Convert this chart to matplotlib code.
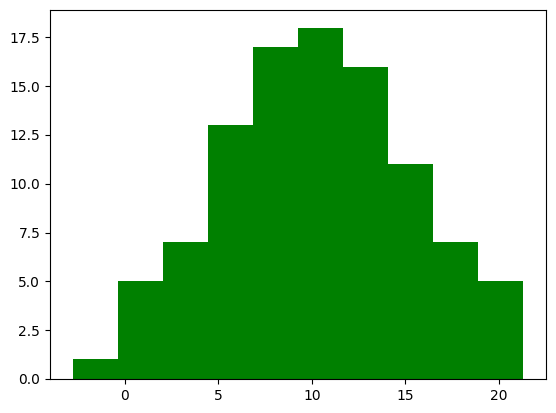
import numpy as np
import matplotlib
matplotlib.use('Agg')
import matplotlib.pyplot as plt

# bin edges and counts
bin_edges = [-2.80, -0.39, 2.02, 4.44, 6.85, 9.26, 11.67, 14.08, 16.50, 18.91, 21.32]
counts = [1, 5, 7, 13, 17, 18, 16, 11, 7, 5]

fig = plt.figure(figsize=(5.56, 4.13), dpi=100)
ax = fig.add_subplot(111)
fig.subplots_adjust(left=50/556, right=546/556, top=1-10/413, bottom=1-379/413)

ax.hist(bin_edges[:-1], bins=bin_edges, weights=counts, color='g')

fig.savefig('out.png', dpi=100)
